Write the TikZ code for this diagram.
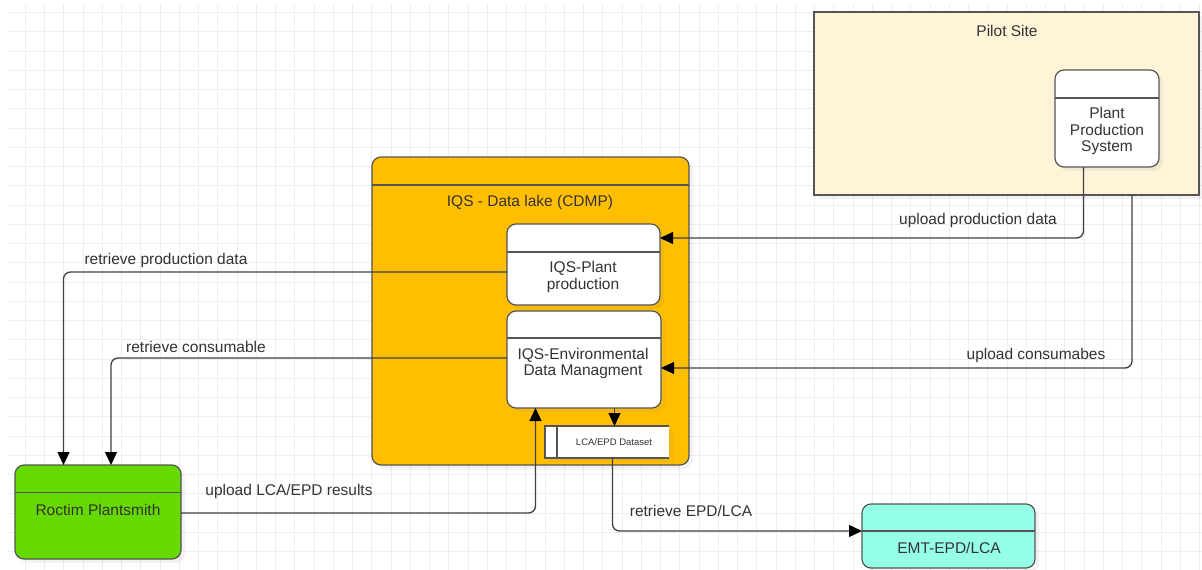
\documentclass[tikz,border=0pt]{standalone}
\usepackage{fontspec}
\setmainfont{Liberation Sans}
\usetikzlibrary{arrows.meta,shadows}
\definecolor{gridc}{HTML}{EEEEEE}
\definecolor{edge}{HTML}{555555}
\definecolor{txt}{HTML}{333333}
\definecolor{lakec}{HTML}{FFBF00}
\definecolor{pilotc}{HTML}{FFF4D8}
\definecolor{rocc}{HTML}{66D900}
\definecolor{emtc}{HTML}{96FFE8}
\definecolor{linec}{HTML}{404040}
\begin{document}
\begin{tikzpicture}[x=1pt,y=-1pt,
  box/.style={draw=edge, line width=1.2pt, anchor=north west, inner sep=0pt, outer sep=0pt,
    rounded corners=9pt, drop shadow={shadow xshift=4pt,shadow yshift=-4pt,opacity=0.10}},
  hdr/.style={draw=edge, line width=1.2pt},
  lbl/.style={font=\fontsize{15.5}{16.5}\selectfont, text=txt, inner sep=0pt, align=center},
  small/.style={font=\fontsize{9.5}{11}\selectfont, text=txt, inner sep=0pt},
  conn/.style={draw=linec, line width=1.3pt, rounded corners=7pt,
    -{Triangle[length=13pt,width=12pt,color=black]}}
]
\useasboundingbox (0,0) rectangle (1202,570);
\fill[white] (0,0) rectangle (1202,570);
% grid
\foreach \i in {0,...,61} {\draw[gridc, line width=1pt] (25.3+19.25*\i,4) -- (25.3+19.25*\i,570);}
\foreach \j in {0,...,28} {\draw[gridc, line width=1pt] (8,12.7+19.25*\j) -- (1202,12.7+19.25*\j);}

% Pilot site
\node[box, fill=pilotc, rounded corners=0pt, minimum width=385pt, minimum height=183pt] (pilot) at (814,12) {};
\node[lbl] (pilott) at (1007,31) {Pilot Site};
\node[box, fill=white, minimum width=104pt, minimum height=97pt] (pps) at (1055,70) {};
\draw[hdr] (pps.west |- 0,98) -- (pps.east |- 0,98);
\node[lbl] (ppst) at (1107,131) {Plant\\Production\\System};

% Data lake
\node[box, fill=lakec, minimum width=317pt, minimum height=308pt] (lake) at (372,157) {};
\draw[hdr] (lake.west |- 0,185) -- (lake.east |- 0,185);
\node[lbl] (laket) at (530,202) {IQS - Data lake (CDMP)};

\node[box, fill=white, minimum width=153pt, minimum height=81pt] (iqsp) at (507,224) {};
\draw[hdr] (iqsp.west |- 0,252) -- (iqsp.east |- 0,252);
\node[lbl] (iqspt) at (583,277) {IQS-Plant\\production};

\node[box, fill=white, minimum width=154pt, minimum height=97pt] (iqse) at (507,311) {};
\draw[hdr] (iqse.west |- 0,338) -- (iqse.east |- 0,338);
\node[lbl] (iqset) at (583,363.5) {IQS-Environmental\\Data Managment};

\node[box, draw=none, fill=white, rounded corners=0pt, minimum width=124pt, minimum height=32pt] (ds) at (545,426) {};
\draw[hdr] (ds.north east) -- (ds.north west) -- (ds.south west) -- (ds.south east);
\draw[hdr] (ds.north -| 557,0) -- (ds.south -| 557,0);
\node[small] (dst) at (614,442) {LCA/EPD Dataset};

% Roctim
\node[box, fill=rocc, minimum width=166pt, minimum height=94pt] (roc) at (15,465) {};
\draw[hdr] (roc.west |- 0,492.5) -- (roc.east |- 0,492.5);
\node[lbl] (roct) at (98,510) {Roctim Plantsmith};

% EMT
\node[box, fill=emtc, minimum width=173pt, minimum height=64pt] (emt) at (862,504) {};
\draw[hdr] (emt.west |- 0,531) -- (emt.east |- 0,531);
\node[lbl] (emtt) at (949,548) {EMT-EPD/LCA};

% connectors
\draw[conn] (pps.south -| 1083.5,0) |- (iqsp.east |- 0,238);
\node[lbl] (l1) at (978,220) {upload production data};

\draw[conn] (pilot.south -| 1132,0) |- (iqse.east |- 0,368);
\node[lbl] (l2) at (1036,355) {upload consumabes};

\draw[conn] (iqsp.west |- 0,272) -| (roc.north -| 63.5,0);
\node[lbl] (l3) at (166,260) {retrieve production data};

\draw[conn] (iqse.west |- 0,358) -| (roc.north -| 111,0);
\node[lbl] (l4) at (196,346.5) {retrieve consumable};

\draw[conn] (roc.east |- 0,513) -| (iqse.south -| 535.5,0);
\node[lbl] (l5) at (289,491) {upload LCA/EPD results};

\draw[conn, rounded corners=0pt] (iqse.south -| 614.5,0) -- (ds.north -| 614.5,0);

\draw[conn] (ds.south -| 612.5,0) |- (emt.west |- 0,531);
\node[lbl] (l6) at (691,510.5) {retrieve EPD/LCA};
\end{tikzpicture}
\end{document}
